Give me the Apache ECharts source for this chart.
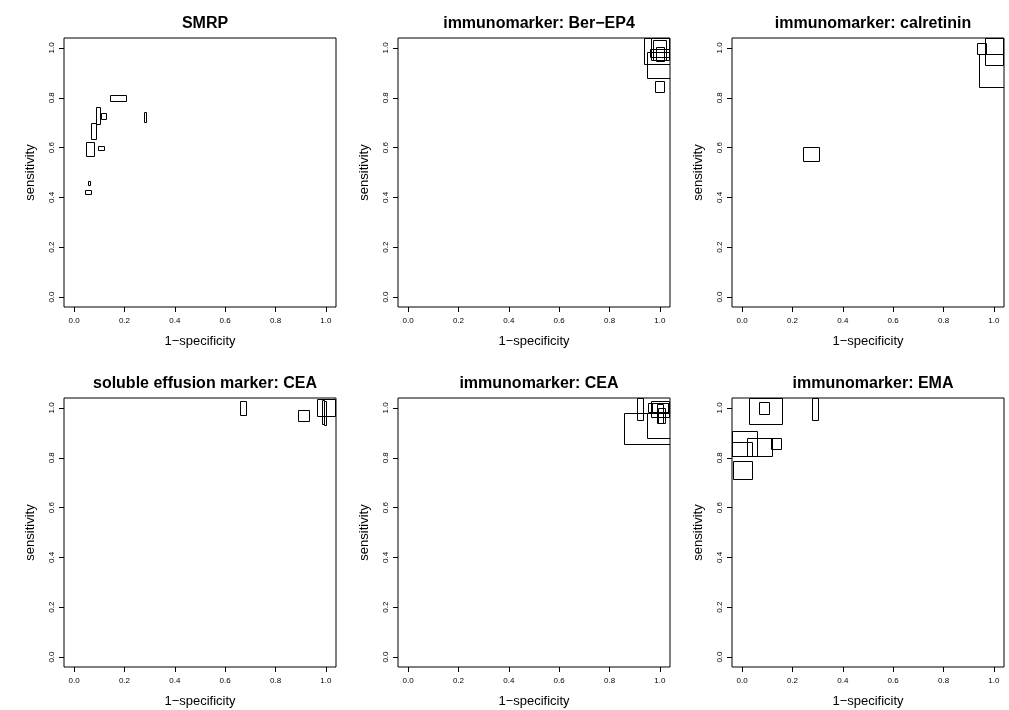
<!DOCTYPE html>
<html>
<head>
<meta charset="utf-8">
<script src="https://cdn.jsdelivr.net/npm/echarts@6/dist/echarts.min.js"></script>
<style>
html,body{margin:0;padding:0;background:#fff;}
#chart{width:1009px;height:710px;}
</style>
</head>
<body>
<div id="chart"></div>
<script>
// Each study: [1-specificity, sensitivity, rectangle width, rectangle height]
const panelTitles = [
  "SMRP",
  "immunomarker: Ber\u2212EP4",
  "immunomarker: calretinin",
  "soluble effusion marker: CEA",
  "immunomarker: CEA",
  "immunomarker: EMA"
];
const smrp = [
  [0.174, 0.801, 0.063, 0.024],
  [0.096, 0.728, 0.017, 0.066],
  [0.116, 0.727, 0.022, 0.021],
  [0.280, 0.723, 0.008, 0.043],
  [0.077, 0.666, 0.019, 0.062],
  [0.063, 0.593, 0.032, 0.055],
  [0.107, 0.600, 0.024, 0.016],
  [0.058, 0.458, 0.008, 0.015],
  [0.055, 0.420, 0.022, 0.016]
];
const berEP4 = [
  [1.000, 1.000, 0.130, 0.126],
  [1.000, 0.930, 0.106, 0.105],
  [1.000, 0.845, 0.036, 0.045],
  [1.000, 1.000, 0.070, 0.098],
  [0.999, 0.990, 0.050, 0.080],
  [0.999, 0.975, 0.032, 0.057],
  [1.000, 0.980, 0.075, 0.035]
];
const calretinin = [
  [0.275, 0.575, 0.063, 0.055],
  [0.951, 0.999, 0.037, 0.045],
  [1.000, 1.000, 0.073, 0.138],
  [1.000, 0.910, 0.118, 0.134]
];
const solubleCEA = [
  [0.671, 1.000, 0.021, 0.055],
  [0.910, 0.971, 0.042, 0.044],
  [1.000, 1.000, 0.074, 0.068],
  [0.988, 0.985, 0.011, 0.096],
  [0.996, 0.980, 0.009, 0.096]
];
const immunoCEA = [
  [1.000, 0.918, 0.284, 0.122],
  [1.000, 0.928, 0.106, 0.100],
  [0.921, 1.000, 0.025, 0.096],
  [1.000, 1.000, 0.096, 0.036],
  [1.000, 0.994, 0.073, 0.064],
  [1.005, 0.971, 0.027, 0.060],
  [1.000, 1.000, 0.066, 0.040],
  [1.000, 0.978, 0.024, 0.074]
];
const ema = [
  [0.093, 1.000, 0.128, 0.126],
  [0.088, 1.000, 0.041, 0.045],
  [0.290, 1.000, 0.026, 0.098],
  [0.000, 0.858, 0.116, 0.102],
  [0.069, 0.844, 0.097, 0.074],
  [0.000, 0.836, 0.077, 0.058],
  [0.134, 0.859, 0.040, 0.044],
  [0.002, 0.751, 0.073, 0.072]
];
const tickValues = [0, 0.2, 0.4, 0.6, 0.8, 1.0];
const xName = "1\u2212specificity";
const yName = "sensitivity";

const panels = [smrp, berEP4, calretinin, solubleCEA, immunoCEA, ema];
const colLeft = [64, 398, 732];
const rowTop = [38, 398];
const boxW = 272, boxH = 269;
const AMIN = -0.04, AMAX = 1.04;
const FONT = '"Liberation Sans", Arial, sans-serif';

const grids = [], xAxes = [], yAxes = [], titles = [], series = [];

function clampV(v) { return Math.max(AMIN, Math.min(AMAX, v)); }
function renderRect(params, api) {
  const x = api.value(0), y = api.value(1), w = api.value(2), h = api.value(3);
  const p1 = api.coord([clampV(x - w / 2), clampV(y + h / 2)]);
  const p2 = api.coord([clampV(x + w / 2), clampV(y - h / 2)]);
  const x0 = Math.round(p1[0]) + 0.5, y0 = Math.round(p1[1]) + 0.5;
  const x1 = Math.round(p2[0]) + 0.5, y1 = Math.round(p2[1]) + 0.5;
  return {
    type: 'rect',
    shape: { x: x0, y: y0, width: x1 - x0, height: y1 - y0 },
    style: { fill: 'none', stroke: '#000', lineWidth: 1 }
  };
}

panels.forEach((data, i) => {
  const c = i % 3, r = Math.floor(i / 3);
  const left = colLeft[c], top = rowTop[r];
  grids.push({
    left: left, top: top, width: boxW, height: boxH,
    show: true, borderColor: '#000', borderWidth: 1, backgroundColor: 'transparent',
    containLabel: false
  });
  xAxes.push({
    type: 'value', gridIndex: i, min: AMIN, max: AMAX, position: 'bottom',
    name: xName, nameLocation: 'middle', nameGap: 28,
    nameTextStyle: { fontSize: 13, color: '#000', fontFamily: FONT },
    axisLine: { show: false, onZero: false },
    splitLine: { show: false },
    axisTick: { show: true, inside: false, length: 5, customValues: tickValues, lineStyle: { color: '#000', width: 1 } },
    axisLabel: { show: true, customValues: tickValues, margin: 10, fontSize: 8, color: '#000', fontFamily: FONT,
      formatter: v => v.toFixed(1) }
  });
  yAxes.push({
    type: 'value', gridIndex: i, min: AMIN, max: AMAX, position: 'left',
    name: yName, nameLocation: 'middle', nameGap: 27,
    nameTextStyle: { fontSize: 13, color: '#000', fontFamily: FONT },
    axisLine: { show: false, onZero: false },
    splitLine: { show: false },
    axisTick: { show: true, inside: false, length: 5, customValues: tickValues, lineStyle: { color: '#000', width: 1 } },
    axisLabel: { show: true, customValues: tickValues, margin: 8, rotate: 90, fontSize: 8, color: '#000', fontFamily: FONT,
      formatter: v => v.toFixed(1) }
  });
  titles.push({
    text: panelTitles[i], left: left + boxW / 2, top: top - 27, textAlign: 'center',
    textStyle: { fontSize: 16, fontWeight: 'bold', color: '#000', fontFamily: FONT }
  });
  series.push({
    type: 'custom', xAxisIndex: i, yAxisIndex: i,
    renderItem: renderRect, clip: true, silent: true, animation: false,
    dimensions: ['fpr', 'sens', 'w', 'h'],
    encode: { x: 0, y: 1 },
    data: data
  });
});

const chart = echarts.init(document.getElementById('chart'), null, { renderer: 'canvas' });
chart.setOption({
  backgroundColor: '#fff',
  animation: false,
  title: titles,
  grid: grids,
  xAxis: xAxes,
  yAxis: yAxes,
  series: series
});
</script>
</body>
</html>
